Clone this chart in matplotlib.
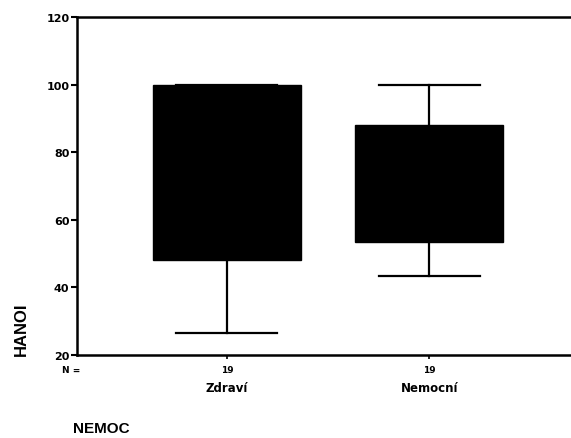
import matplotlib
matplotlib.use("Agg")
import matplotlib.pyplot as plt
import matplotlib.transforms as mtransforms

categories = ["Zdraví", "Nemocní"]
counts = [19, 19]
q1 = [48, 53.5]
q3 = [100, 88]
medians = [72, 70]
whislo = [26.5, 43.5]
whishi = [100, 100]
yticks = [20, 40, 60, 80, 100, 120]

plt.rcParams['font.family'] = ['DejaVu Sans']

fig = plt.figure(figsize=(5.71, 4.39), dpi=100)
ax = fig.add_axes([0.135, 0.189, 0.865, 0.77])

stats = []
for i, c in enumerate(categories):
    stats.append(dict(label=c, med=medians[i], q1=q1[i], q3=q3[i],
                      whislo=whislo[i], whishi=whishi[i], fliers=[]))

positions = list(range(1, len(categories) + 1))
ax.bxp(stats, positions=positions, widths=0.73, patch_artist=True,
       showfliers=False,
       boxprops=dict(facecolor='black', edgecolor='black', linewidth=1),
       medianprops=dict(color='black', linewidth=1),
       whiskerprops=dict(color='black', linewidth=1.6),
       capprops=dict(color='black', linewidth=1.6),
       capwidths=0.5)

ax.set_xlim(0.26, 2.7)
ax.set_ylim(20, 120)
ax.set_yticks(yticks)
ax.set_yticklabels([str(t) for t in yticks], fontsize=8, fontweight='bold')
ax.set_xticks(positions)
ax.set_xticklabels([""] * len(positions))
ax.tick_params(axis='y', direction='out', length=4, width=1.5, pad=1.5)
ax.tick_params(axis='x', direction='out', length=3, width=1.2)

for s in ['left', 'top', 'bottom']:
    ax.spines[s].set_linewidth(1.8)
ax.spines['right'].set_visible(False)

trans = mtransforms.blended_transform_factory(ax.transData, fig.transFigure)
for p, n, c in zip(positions, counts, categories):
    ax.text(p, 0.157, str(n), transform=trans, ha='center', va='center',
            fontsize=6.5, fontweight='bold')
    ax.text(p, 0.114, c, transform=trans, ha='center', va='center',
            fontsize=8.5, fontweight='bold')

fig.text(0.125, 0.157, "N =", ha='center', va='center', fontsize=6.5, fontweight='bold')
fig.text(0.128, 0.023, "NEMOC", ha='left', va='center', fontsize=11,
         fontweight='bold', family='Liberation Sans')
fig.text(0.037, 0.250, "HANOI", ha='center', va='center', fontsize=12,
         fontweight='bold', rotation=90, family='Liberation Sans')

fig.savefig("out.png", dpi=100)
